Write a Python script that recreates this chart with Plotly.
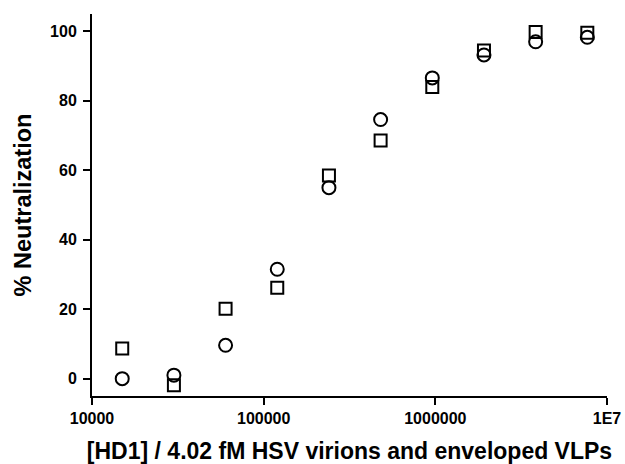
import plotly.graph_objects as go

# Data
conc = [15000, 30000, 60000, 120000, 240000, 480000, 960000, 1920000, 3840000, 7680000]
squares = [8.7, -1.9, 20.1, 26.2, 58.5, 68.6, 84.0, 94.5, 99.8, 99.6]
circles = [0.0, 1.0, 9.6, 31.5, 55.0, 74.6, 86.6, 93.2, 97.0, 98.3]

x_tickvals = [10000, 100000, 1000000, 10000000]
x_ticktext = ["10000", "100000", "1000000", "1E7"]
y_tickvals = [0, 20, 40, 60, 80, 100]

fig = go.Figure()
fig.add_trace(go.Scatter(
    x=conc, y=squares, mode="markers", cliponaxis=False,
    marker=dict(symbol="square-open", size=12, color="black", line=dict(width=2, color="black")),
    showlegend=False,
))
fig.add_trace(go.Scatter(
    x=conc, y=circles, mode="markers", cliponaxis=False,
    marker=dict(symbol="circle-open", size=13, color="black", line=dict(width=2, color="black")),
    showlegend=False,
))

font_family = "Liberation Sans, Arial, sans-serif"
fig.update_layout(
    width=625, height=464,
    margin=dict(l=92, r=18, t=14, b=68),
    paper_bgcolor="white", plot_bgcolor="white",
    font=dict(family=font_family, color="black"),
    xaxis=dict(
        type="log", range=[4, 7], automargin=False,
        tickvals=x_tickvals, ticktext=x_ticktext,
        ticks="outside", ticklen=7, tickwidth=2, tickcolor="black",
        showline=True, linewidth=2, linecolor="black",
        showgrid=False, zeroline=False,
        tickfont=dict(size=16, family=font_family, color="black", weight="bold"),
        title=dict(text="<b>[HD1] / 4.02 fM HSV virions and enveloped VLPs</b>",
                   font=dict(size=23, family=font_family, color="black"), standoff=23),
    ),
    yaxis=dict(
        range=[-5, 105], automargin=False,
        tickvals=y_tickvals,
        ticks="outside", ticklen=7, tickwidth=2, tickcolor="black",
        ticklabelstandoff=3,
        showline=True, linewidth=2, linecolor="black",
        showgrid=False, zeroline=False,
        tickfont=dict(size=16, family=font_family, color="black", weight="bold"),
        title=dict(text="<b>% Neutralization</b>",
                   font=dict(size=23.5, family=font_family, color="black"), standoff=12),
    ),
)

# remove the page's default body margin so the figure fills the window exactly
fig.write_html(
    "out.html",
    config={"displayModeBar": False},
    post_script="document.body.style.margin='0';document.body.style.overflow='hidden';",
)
